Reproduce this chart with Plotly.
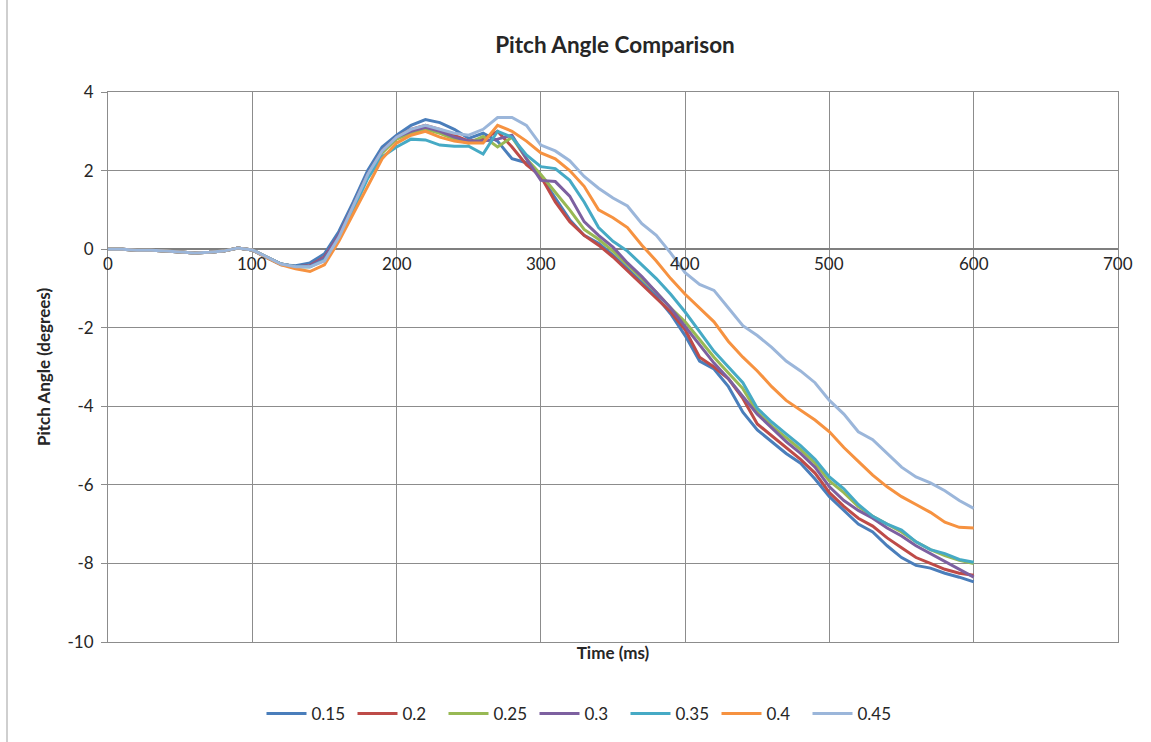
import plotly.graph_objects as go

time_ms = list(range(0, 610, 10))

series_names = ["0.15", "0.2", "0.25", "0.3", "0.35", "0.4", "0.45"]
colors = ["#4A7EBB", "#BE4B48", "#98B954", "#7D60A0", "#46AAC5", "#F69240", "#9BB6DA"]

pre = [0, 0, -0.03, -0.03, -0.05, -0.08, -0.1, -0.08, -0.05, 0.03, -0.02]  # 0..100

s015 = pre + [-0.22, -0.4, -0.42, -0.35, -0.12, 0.45, 1.2, 2.0, 2.6, 2.9,
              3.15, 3.3, 3.22, 3.05, 2.82, 2.95, 2.75, 2.3, 2.2, 1.85,
              1.3, 0.75, 0.35, 0.15, -0.15, -0.5, -0.85, -1.2, -1.65, -2.2,
              -2.85, -3.05, -3.5, -4.15, -4.6, -4.9, -5.2, -5.45, -5.85, -6.3,
              -6.65, -7.0, -7.2, -7.55, -7.85, -8.05, -8.12, -8.25, -8.35, -8.47]
s020 = pre + [-0.2, -0.38, -0.45, -0.42, -0.2, 0.35, 1.1, 1.9, 2.5, 2.85,
              3.05, 3.15, 3.05, 2.9, 2.75, 2.8, 3.0, 2.6, 2.15, 1.85,
              1.2, 0.7, 0.35, 0.1, -0.2, -0.55, -0.9, -1.25, -1.6, -2.05,
              -2.75, -3.0, -3.3, -3.8, -4.45, -4.75, -5.05, -5.35, -5.7, -6.2,
              -6.55, -6.85, -7.05, -7.35, -7.6, -7.85, -8.0, -8.15, -8.25, -8.3]
s025 = pre + [-0.2, -0.38, -0.45, -0.45, -0.25, 0.3, 1.05, 1.85, 2.45, 2.8,
              2.95, 3.05, 2.95, 2.8, 2.7, 2.87, 2.6, 2.85, 2.3, 1.9,
              1.45, 1.0, 0.5, 0.25, -0.05, -0.4, -0.75, -1.1, -1.5, -1.85,
              -2.3, -2.75, -3.15, -3.55, -4.15, -4.5, -4.8, -5.1, -5.45, -5.9,
              -6.2, -6.55, -6.8, -7.0, -7.2, -7.45, -7.65, -7.8, -7.92, -8.0]
s030 = pre + [-0.2, -0.38, -0.45, -0.43, -0.22, 0.35, 1.1, 1.9, 2.5, 2.85,
              3.0, 3.1, 3.0, 2.85, 2.75, 2.75, 2.8, 2.9, 2.3, 1.75,
              1.72, 1.35, 0.7, 0.35, 0.05, -0.35, -0.7, -1.1, -1.5, -1.97,
              -2.45, -2.9, -3.3, -3.75, -4.2, -4.55, -4.9, -5.2, -5.55, -6.05,
              -6.4, -6.65, -6.85, -7.1, -7.3, -7.55, -7.75, -7.95, -8.15, -8.35]
s035 = pre + [-0.2, -0.38, -0.45, -0.45, -0.28, 0.25, 1.0, 1.8, 2.35, 2.6,
              2.8, 2.78, 2.65, 2.62, 2.62, 2.42, 3.0, 2.85, 2.4, 2.1,
              2.05, 1.75, 1.2, 0.55, 0.2, -0.05, -0.4, -0.75, -1.15, -1.6,
              -2.1, -2.6, -3.0, -3.4, -4.05, -4.4, -4.7, -5.0, -5.35, -5.8,
              -6.1, -6.5, -6.8, -7.0, -7.15, -7.45, -7.65, -7.75, -7.9, -7.97]
s040 = pre + [-0.22, -0.4, -0.5, -0.57, -0.4, 0.2, 0.9, 1.6, 2.3, 2.7,
              2.9, 3.0, 2.85, 2.75, 2.7, 2.7, 3.15, 3.0, 2.75, 2.45,
              2.3, 2.0, 1.6, 1.0, 0.8, 0.55, 0.1, -0.3, -0.75, -1.15,
              -1.5, -1.85, -2.35, -2.75, -3.1, -3.5, -3.85, -4.1, -4.35, -4.65,
              -5.05, -5.4, -5.75, -6.05, -6.3, -6.5, -6.7, -6.95, -7.08, -7.1]
s045 = pre + [-0.2, -0.38, -0.45, -0.45, -0.3, 0.3, 1.1, 1.9, 2.5, 2.85,
              3.05, 3.15, 3.05, 2.95, 2.9, 3.05, 3.35, 3.35, 3.15, 2.65,
              2.5, 2.25, 1.85, 1.55, 1.3, 1.1, 0.65, 0.35, -0.1, -0.6,
              -0.9, -1.05, -1.5, -1.95, -2.2, -2.5, -2.85, -3.1, -3.4, -3.85,
              -4.2, -4.65, -4.85, -5.2, -5.55, -5.8, -5.95, -6.15, -6.4, -6.6]

all_series = [s015, s020, s025, s030, s035, s040, s045]

x_ticks = list(range(0, 800, 100))
y_ticks = list(range(-10, 6, 2))
y_tick_text = [str(v) for v in y_ticks]

FONT = "Lato, 'Liberation Sans', sans-serif"
TXT = "#262626"
GRID = "#8C8C8C"

L, R, T, B = 108, 1118, 92, 642
W, H = 1151, 742
PW, PH = R - L, B - T

fig = go.Figure()
for name, col, vals in zip(series_names, colors, all_series):
    fig.add_trace(go.Scatter(x=time_ms, y=vals, name=name, mode="lines",
                             line=dict(color=col, width=3)))

fig.update_layout(
    width=W, height=H,
    margin=dict(l=L, r=W - R, t=T, b=H - B, autoexpand=False),
    paper_bgcolor="white", plot_bgcolor="white",
    title=dict(text="<b>Pitch Angle Comparison</b>", x=(615 - L) / PW, xref="paper",
               xanchor="center", y=1 - 45 / H, yanchor="middle", automargin=False,
               font=dict(family=FONT, size=22.5, color=TXT)),
    font=dict(family=FONT, size=17, color=TXT),
    showlegend=True,
    legend=dict(orientation="h", x=(580 - L) / PW, xanchor="center",
                y=-(714 - B) / PH, yanchor="middle",
                itemwidth=40, entrywidth=36,
                font=dict(size=17, color=TXT)),
)

fig.update_xaxes(range=[0, 700], tickvals=x_ticks, showticklabels=False,
                 showgrid=True, gridcolor=GRID, gridwidth=1, automargin=False,
                 showline=True, linecolor=GRID, mirror=True, zeroline=False,
                 title=dict(text="<b>Time (ms)</b>", standoff=5,
                            font=dict(size=17, color=TXT)))
fig.update_yaxes(range=[-10, 4], tickvals=y_ticks, ticktext=y_tick_text,
                 showgrid=True, gridcolor=GRID, gridwidth=1, automargin=False,
                 showline=True, linecolor=GRID, mirror=True,
                 zeroline=True, zerolinecolor="#7F7F7F", zerolinewidth=1.5,
                 ticks="outside", ticklen=6, tickcolor=GRID, ticklabelstandoff=4,
                 title=dict(text="<b>Pitch Angle (degrees)</b>", standoff=12,
                            font=dict(size=17, color=TXT)))

for t in x_ticks:
    fig.add_annotation(x=t, y=0, xref="x", yref="y", text=str(t), showarrow=False,
                       xanchor="center", yanchor="middle", yshift=-14,
                       font=dict(size=17, color=TXT))

# chart-area left border
fig.add_shape(type="line", xref="paper", yref="paper",
              x0=(7 - L) / PW, x1=(7 - L) / PW,
              y0=-(H - B) / PH, y1=(B - 0) / PH,
              line=dict(color="#BFBFBF", width=1.5), layer="below")

fig.write_html("out.html", config={"displayModeBar": False},
               post_script="document.body.style.margin='0px';")
